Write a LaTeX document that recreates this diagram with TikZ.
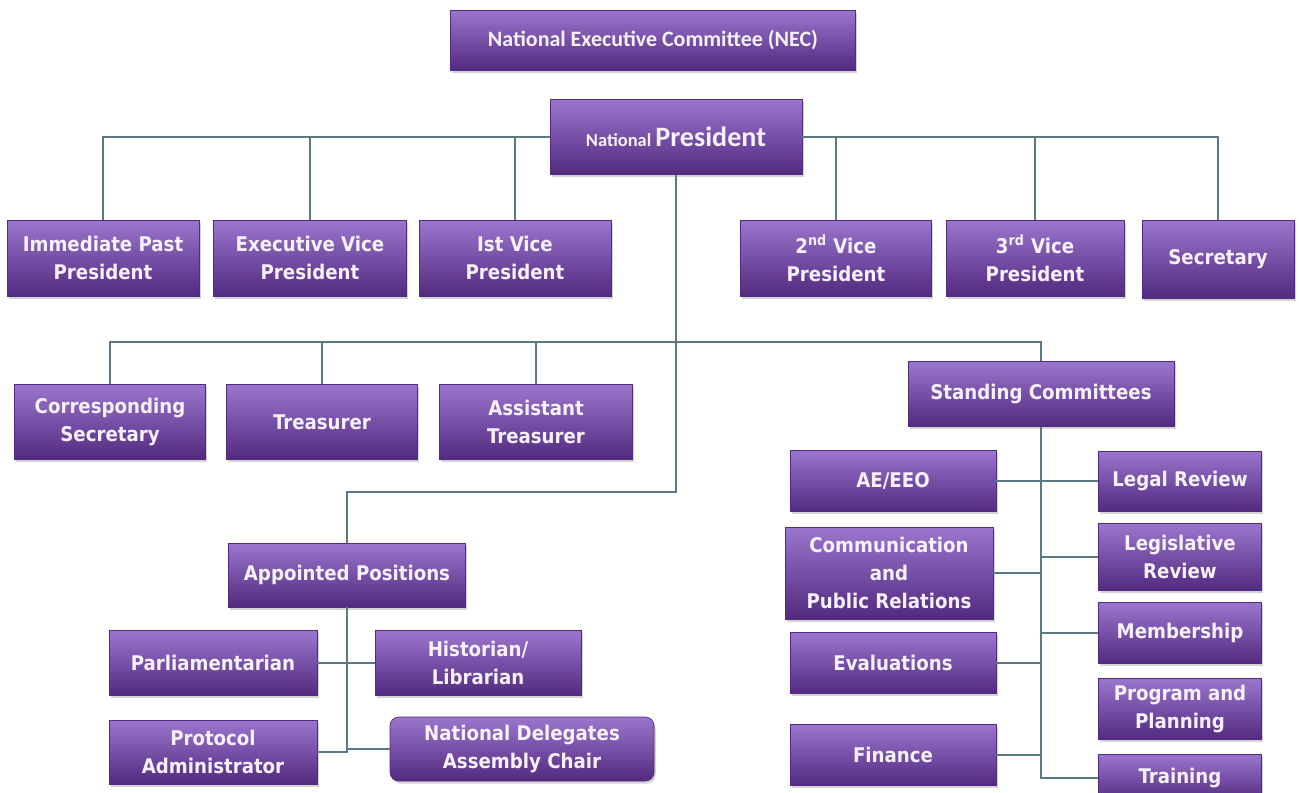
\documentclass[tikz,border=0pt]{standalone}
\usepackage{fontspec}
\newfontfamily\condfont{DejaVu Sans Condensed}
\newfontfamily\calfont{Carlito}
\usetikzlibrary{shadows}
\definecolor{boxtop}{HTML}{9A76CC}
\definecolor{boxmid}{HTML}{6E40A8}
\definecolor{boxbot}{HTML}{522A80}
\definecolor{wire}{HTML}{5B7884}
\definecolor{boxtext}{HTML}{F6F0FA}

\begin{document}
\begin{tikzpicture}[x=0.02cm, y=-0.02cm,
  office/.style 2 args={rectangle, top color=boxtop, middle color=boxmid,
    bottom color=boxbot, draw=boxbot, line width=0.4pt,
    drop shadow={opacity=0.35, shadow xshift=1pt, shadow yshift=-1.5pt},
    text=boxtext, align=center, inner sep=2pt,
    font=\condfont\bfseries\fontsize{11.5}{16}\selectfont,
    minimum width=#1*0.02cm, minimum height=#2*0.02cm},
  link/.style={draw=wire, line width=0.7pt}]
  \clip (0,0) rectangle (1299,792);

  % top of the chart
  \node[office={405}{60}, font=\calfont\bfseries\fontsize{12.5}{15}\selectfont] (nec) at (653,40)
    {National Executive Committee (NEC)};
  \node[office={252}{75}, font=\calfont\bfseries] (pres) at (676,137)
    {{\fontsize{10.5}{12}\selectfont National} {\fontsize{16}{18}\selectfont President}};

  % elected officers
  \node[office={192}{76}] (pastpres) at (103,258) {Immediate Past\\President};
  \node[office={193}{76}] (execvp) at (310,258) {Executive Vice\\President};
  \node[office={192}{76}] (firstvp) at (515,258) {Ist Vice\\President};
  \node[office={191}{76}] (secondvp) at (836,258) {2\textsuperscript{nd} Vice\\President};
  \node[office={178}{76}] (thirdvp) at (1035,258) {3\textsuperscript{rd} Vice\\President};
  \node[office={152}{78}] (secy) at (1218,259) {Secretary};

  \node[office={191}{75}] (corrsec) at (110,422) {Corresponding\\Secretary};
  \node[office={191}{75}] (treas) at (322,422) {Treasurer};
  \node[office={193}{75}] (asttreas) at (536,422) {Assistant\\Treasurer};
  \node[office={266}{65}] (standing) at (1041,394) {Standing Committees};

  % appointed positions
  \node[office={237}{64}] (appointed) at (347,575) {Appointed Positions};
  \node[office={208}{65}] (parl) at (213,663) {Parliamentarian};
  \node[office={206}{65}] (hist) at (478,663) {Historian/\\Librarian};
  \node[office={208}{64}] (protocol) at (213,752) {Protocol\\Administrator};
  \node[office={264}{64}, rounded corners=5pt] (ndachair) at (522,749)
    {National Delegates\\Assembly Chair};

  % standing committees
  \node[office={206}{61}] (aeeeo) at (893,481) {AE/EEO};
  \node[office={163}{60}] (legal) at (1180,481) {Legal Review};
  \node[office={208}{92}] (commpr) at (889,573) {Communication\\and\\Public Relations};
  \node[office={163}{67}] (legis) at (1180,557) {Legislative\\Review};
  \node[office={163}{61}] (member) at (1180,633) {Membership};
  \node[office={206}{61}] (evals) at (893,663) {Evaluations};
  \node[office={163}{61}] (progplan) at (1180,709) {Program and\\Planning};
  \node[office={206}{61}] (finance) at (893,755) {Finance};
  \node[office={163}{48}] (training) at (1180,778) {Training}; % runs off the page

  \coordinate (row) at (0,342);
  \coordinate (bend) at (0,492);

  % connectors
  \draw[link] (pres.west) -| (pastpres.north);
  \draw[link] (pres.east) -| (secy.north);
  \foreach \n in {execvp,firstvp,secondvp,thirdvp}
    \draw[link] (\n.north) -- (\n.north |- pres.west);
  \draw[link] (pres.south) -- (pres.south |- bend) -| (appointed.north);
  \draw[link] (corrsec.north) |- (standing.north |- row) -- (standing.north);
  \foreach \n in {treas,asttreas}
    \draw[link] (\n.north) -- (\n.north |- row);

  \draw[link] (appointed.south) |- (protocol.east);
  \draw[link] (appointed.south |- ndachair.west) -- (ndachair.west);
  \draw[link] (parl.east) -- (hist.west);

  \draw[link] (standing.south) |- (training.west);
  \draw[link] (aeeeo.east) -- (legal.west);
  \foreach \n in {commpr,evals,finance}
    \draw[link] (\n.east) -- (\n.east -| standing.south);
  \foreach \n in {legis,member}
    \draw[link] (\n.west) -- (\n.west -| standing.south);
\end{tikzpicture}
\end{document}
